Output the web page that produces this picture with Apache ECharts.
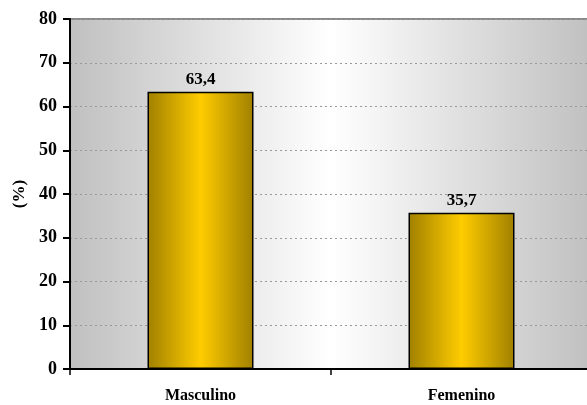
<!DOCTYPE html>
<html><head><meta charset="utf-8">
<script src="https://cdn.jsdelivr.net/npm/echarts@6/dist/echarts.min.js"></script>
<style>html,body{margin:0;padding:0;background:#fff;overflow:hidden}#c{width:587px;height:405px}</style>
</head><body><div id="c"></div>
<script>
var categories = ['Masculino', 'Femenino'];
var values = [63.4, 35.7];
var valueLabels = ['63,4', '35,7'];
var yTicks = [0, 10, 20, 30, 40, 50, 60, 70, 80];

var chart = echarts.init(document.getElementById('c'));
var font = '"Liberation Serif", "Times New Roman", serif';
chart.setOption({
  animation: false,
  grid: {
    left: 70, width: 522, top: 19, height: 350,
    outerBoundsMode: 'none', containLabel: false,
    show: true, borderWidth: 0,
    backgroundColor: new echarts.graphic.LinearGradient(0, 0, 1, 0, [
      {offset: 0, color: '#c0c0c0'},
      {offset: 0.5, color: '#ffffff'},
      {offset: 1, color: '#c0c0c0'}
    ])
  },
  xAxis: {
    type: 'category', data: categories,
    axisLine: {lineStyle: {color: '#000', width: 2}},
    axisTick: {show: true, length: 6, lineStyle: {color: '#000', width: 1.5}},
    axisLabel: {color: '#000', fontFamily: font, fontWeight: 'bold', fontSize: 16, margin: 19}
  },
  yAxis: {
    type: 'value', min: 0, max: 80, interval: 10,
    name: '(%)', nameLocation: 'middle', nameGap: 42, nameRotate: 90,
    nameTextStyle: {color: '#000', fontFamily: font, fontWeight: 'bold', fontSize: 17},
    axisLine: {show: true, lineStyle: {color: '#000', width: 2}},
    axisTick: {show: true, length: 7, lineStyle: {color: '#000', width: 2}},
    axisLabel: {color: '#000', fontFamily: font, fontWeight: 'bold', fontSize: 18, margin: 13,
      formatter: function (v) { return yTicks.indexOf(v) >= 0 ? String(v) : ''; }},
    splitLine: {show: true, lineStyle: {color: '#999', type: [2, 3], width: 1}}
  },
  series: [{
    type: 'bar', data: values, barWidth: 106,
    itemStyle: {
      borderColor: '#000', borderWidth: 1.5,
      color: new echarts.graphic.LinearGradient(0, 0, 1, 0, [
        {offset: 0, color: '#a08000'},
        {offset: 0.5, color: '#ffcc00'},
        {offset: 1, color: '#a08000'}
      ])
    },
    label: {show: true, position: 'top', distance: 4, color: '#000', fontFamily: font,
      fontWeight: 'bold', fontSize: 17,
      formatter: function (p) { return valueLabels[p.dataIndex]; }}
  }],
  graphic: [{
    type: 'line', shape: {x1: 70, y1: 19, x2: 587, y2: 19},
    style: {stroke: '#888', lineWidth: 2}
  }]
});
</script></body></html>
